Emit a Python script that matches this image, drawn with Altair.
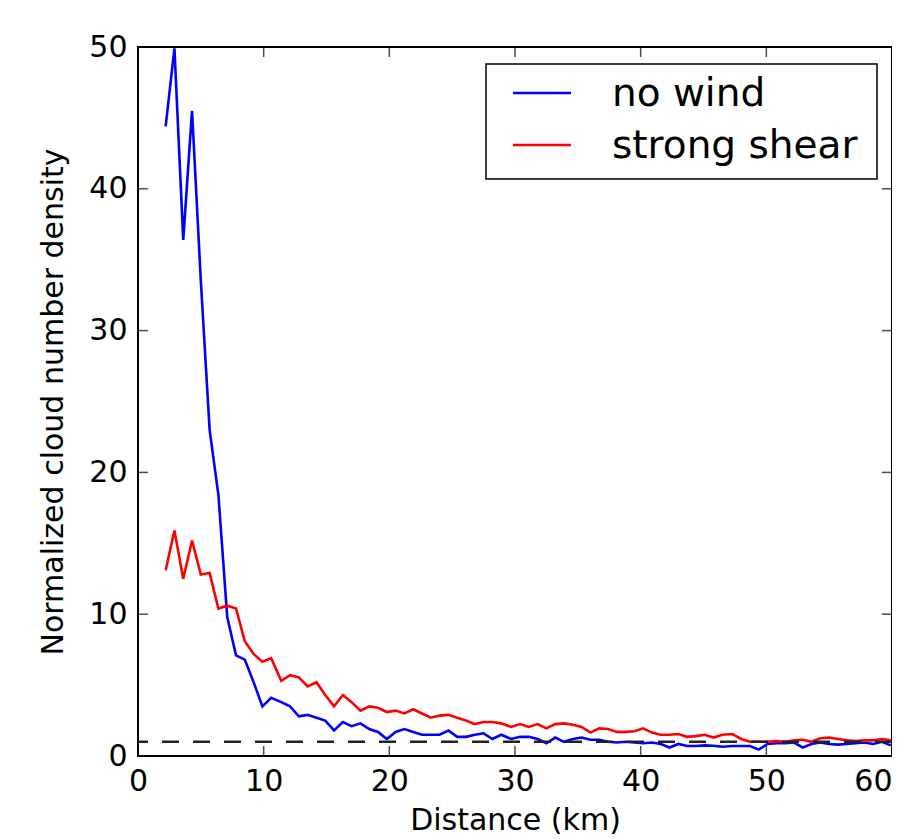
import altair as alt
import pandas as pd

# ---- data ----
distance_km = [2.2, 2.9, 3.6, 4.3, 5.0, 5.7, 6.4, 7.1, 7.8, 8.5,
               9.2, 9.9, 10.6, 11.4, 12.1, 12.8, 13.5, 14.2, 14.9, 15.6,
               16.3, 17.0, 17.7, 18.4, 19.1, 19.8, 20.5, 21.2, 21.9, 22.6,
               23.3, 24.0, 24.7, 25.4, 26.1, 26.8, 27.5, 28.2, 28.9, 29.7,
               30.4, 31.1, 31.8, 32.5, 33.2, 33.9, 34.6, 35.3, 36.0, 36.7,
               37.4, 38.1, 38.8, 39.5, 40.2, 40.9, 41.6, 42.3, 43.0, 43.7,
               44.4, 45.1, 45.8, 46.5, 47.3, 48.0, 48.7, 49.4, 50.1, 50.8,
               51.5, 52.2, 52.9, 53.6, 54.3, 55.0, 55.7, 56.4, 57.1, 57.8,
               58.5, 59.2, 59.9]

no_wind = [44.4, 49.9, 36.4, 45.5, 33.5, 23.0, 18.4, 9.8, 7.1, 6.8,
           5.2, 3.5, 4.1, 3.8, 3.5, 2.8, 2.9, 2.7, 2.5, 1.8,
           2.4, 2.1, 2.3, 1.9, 1.7, 1.2, 1.7, 1.9, 1.7, 1.5,
           1.5, 1.5, 1.8, 1.35, 1.35, 1.5, 1.6, 1.2, 1.5, 1.2,
           1.35, 1.35, 1.2, 0.9, 1.3, 1.0, 1.2, 1.3, 1.15, 1.15,
           1.0, 0.95, 1.0, 0.95, 0.9, 0.95, 0.85, 0.6, 0.85, 0.7,
           0.7, 0.75, 0.72, 0.65, 0.7, 0.7, 0.7, 0.45, 0.85, 0.9,
           0.9, 0.95, 0.6, 0.85, 0.95, 0.85, 0.8, 0.85, 0.9, 0.95,
           0.85, 1.0, 0.75]

strong_shear = [13.1, 15.9, 12.5, 15.2, 12.8, 12.9, 10.4, 10.6, 10.4, 8.1,
                7.2, 6.65, 6.9, 5.3, 5.7, 5.55, 4.9, 5.2, 4.3, 3.5,
                4.3, 3.8, 3.2, 3.5, 3.4, 3.1, 3.2, 3.0, 3.3, 3.0,
                2.7, 2.85, 2.9, 2.7, 2.5, 2.25, 2.4, 2.4, 2.3, 2.05,
                2.25, 2.05, 2.25, 1.95, 2.25, 2.3, 2.2, 2.05, 1.65, 1.95,
                1.9, 1.7, 1.7, 1.75, 1.95, 1.65, 1.5, 1.5, 1.55, 1.35,
                1.4, 1.5, 1.3, 1.5, 1.55, 1.2, 1.0, 1.0, 1.0, 1.05,
                1.0, 1.1, 1.15, 1.0, 1.25, 1.3, 1.2, 1.1, 1.05, 1.1,
                1.1, 1.2, 1.1]

series_names = ["no wind", "strong shear"]
series_colors = ["#0000ff", "#ff0000"]
x_ticks = [0, 10, 20, 30, 40, 50, 60]
y_ticks = [0, 10, 20, 30, 40, 50]
reference_level = [1.0]

n = len(distance_km)
df = pd.DataFrame({
    "distance": distance_km + distance_km,
    "density": no_wind + strong_shear,
    "series": [series_names[0]] * n + [series_names[1]] * n,
    "order": list(range(n)) + list(range(n)),
})

W, H = 754, 709
FONT = "DejaVu Sans"
x_scale = alt.Scale(domain=[0, 60], nice=False, zero=False)
y_scale = alt.Scale(domain=[0, 50], nice=False, zero=False)

x_axis = alt.Axis(title="Distance (km)", values=x_ticks, ticks=False, tickSize=0,
                  domain=False, grid=False, labelPadding=10, labelFlush=False,
                  labelAlign=alt.expr("datum.value >= 60 ? 'right' : 'center'"),
                  titleBaseline="alphabetic", titleY=73, titleX=W / 2)
y_axis = alt.Axis(title="Normalized cloud number density", values=y_ticks, ticks=False,
                  tickSize=0, domain=False, grid=False, labelPadding=11, labelFlush=False,
                  titleBaseline="alphabetic", titleX=-76, titleY=H / 2)

lines = alt.Chart(df).mark_line(strokeWidth=2.6).encode(
    x=alt.X("distance:Q", scale=x_scale, axis=x_axis),
    y=alt.Y("density:Q", scale=y_scale, axis=y_axis),
    color=alt.Color("series:N", scale=alt.Scale(domain=series_names, range=series_colors),
                    legend=None),
    order="order:Q",
)

ref_df = pd.DataFrame({"level": reference_level})
dashed = alt.Chart(ref_df).mark_rule(color="#222222", strokeWidth=2.6, strokeDash=[17, 14]).encode(
    y=alt.Y("level:Q", scale=y_scale, axis=y_axis)
)

xt_df = pd.DataFrame({"t": x_ticks})
yt_df = pd.DataFrame({"t": y_ticks})
tick_style = dict(color="black", thickness=1.5, size=10)
x_ticks_bottom = alt.Chart(xt_df).mark_tick(**tick_style).encode(
    x=alt.X("t:Q", scale=x_scale, axis=x_axis), y=alt.value(H - 5))
x_ticks_top = alt.Chart(xt_df).mark_tick(**tick_style).encode(
    x=alt.X("t:Q", scale=x_scale, axis=x_axis), y=alt.value(5))
y_ticks_left = alt.Chart(yt_df).mark_tick(**tick_style).encode(
    y=alt.Y("t:Q", scale=y_scale, axis=y_axis), x=alt.value(5))
y_ticks_right = alt.Chart(yt_df).mark_tick(**tick_style).encode(
    y=alt.Y("t:Q", scale=y_scale, axis=y_axis), x=alt.value(W - 5))

# ---- legend box (decoration) ----
box_df = pd.DataFrame({"b": [0]})
legend_box = alt.Chart(box_df).mark_rect(fill="white", stroke="black", strokeWidth=1.5).encode(
    x=alt.value(348), x2=alt.value(739), y=alt.value(17), y2=alt.value(132))
legend_layers = [legend_box]
row_y = [47, 99]
for name, col, yy in zip(series_names, series_colors, row_y):
    ldf = pd.DataFrame({"label": [name]})
    legend_layers.append(
        alt.Chart(ldf).mark_rule(color=col, strokeWidth=2.6).encode(
            x=alt.value(375), x2=alt.value(433), y=alt.value(yy - 1)))
    legend_layers.append(
        alt.Chart(ldf).mark_text(align="left", baseline="middle", font=FONT, fontSize=39,
                                 color="black").encode(
            text="label:N", x=alt.value(474), y=alt.value(yy)))

chart = alt.layer(
    lines, dashed, x_ticks_bottom, x_ticks_top, y_ticks_left, y_ticks_right, *legend_layers
).properties(
    width=W, height=H,
    autosize=alt.AutoSizeParams(type="none"),
    padding={"left": 130, "top": 39, "right": 0, "bottom": 83},
).configure_view(
    stroke="black", strokeWidth=2
).configure_axis(
    labelFont=FONT, labelFontSize=30, labelColor="black",
    titleFont=FONT, titleFontSize=30, titleColor="black", titleFontWeight="normal",
)

chart.save("out.html", embed_options={"renderer": "svg", "actions": False})
